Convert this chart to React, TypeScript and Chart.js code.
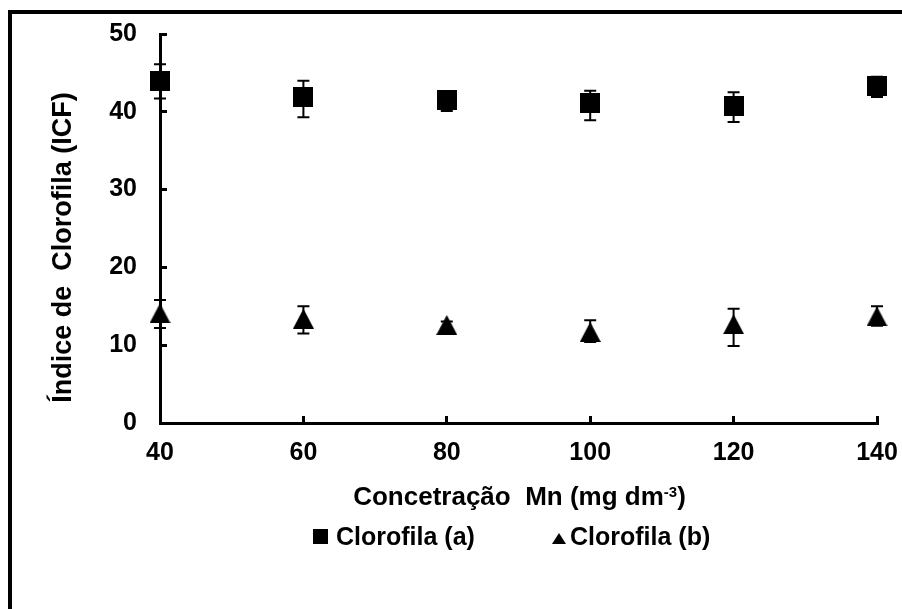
import React, { useEffect, useRef } from 'react';
import { Chart, registerables } from 'chart.js';

Chart.register(...registerables);

// ---- Data ----
const concentrations = [40, 60, 80, 100, 120, 140];
const clorofilaA = [43.9, 41.9, 41.5, 41.1, 40.8, 43.3];
const clorofilaAErrPlus = [2.2, 2.1, 1.0, 1.6, 1.7, 1.2];
const clorofilaAErrMinus = [2.2, 2.6, 1.4, 2.2, 2.1, 1.4];
const clorofilaB = [14.1, 13.4, 12.6, 11.7, 12.7, 13.7];
const clorofilaBErrPlus = [1.7, 1.6, 0.45, 1.5, 2.0, 1.3];
const clorofilaBErrMinus = [1.9, 1.9, 0.45, 1.3, 2.8, 1.2];
const xTicks = [40, 60, 80, 100, 120, 140];
const yTicks = [0, 10, 20, 30, 40, 50];
const seriesLabels = ['Clorofila (a)', 'Clorofila (b)'];
const yTitle = 'Índice de  Clorofila (ICF)';
const xTitleMain = 'Concetração  Mn (mg dm';
const xTitleSup = '-3';
const xTitleEnd = ')';

const errorBars = [
  { plus: clorofilaAErrPlus, minus: clorofilaAErrMinus },
  { plus: clorofilaBErrPlus, minus: clorofilaBErrMinus },
];

const FONT = '"Liberation Sans", Arial, Helvetica, sans-serif';

function makeSquare(size: number) {
  const c = document.createElement('canvas');
  c.width = size;
  c.height = size;
  const g = c.getContext('2d')!;
  g.fillStyle = '#000';
  g.fillRect(0, 0, size, size);
  return c;
}

function makeTriangle(w: number, h: number) {
  const c = document.createElement('canvas');
  c.width = w;
  c.height = h;
  const g = c.getContext('2d')!;
  g.fillStyle = '#000';
  g.beginPath();
  g.moveTo(w / 2, 0);
  g.lineTo(w, h);
  g.lineTo(0, h);
  g.closePath();
  g.fill();
  return c;
}

const errorBarPlugin = {
  id: 'errorBars',
  beforeDatasetsDraw(chart: any) {
    const ctx = chart.ctx;
    const ys = chart.scales.y;
    chart.data.datasets.forEach((ds: any, i: number) => {
      const meta = chart.getDatasetMeta(i);
      const eb = errorBars[i];
      meta.data.forEach((pt: any, j: number) => {
        const v = ds.data[j].y;
        const yt = ys.getPixelForValue(v + eb.plus[j]);
        const yb = ys.getPixelForValue(v - eb.minus[j]);
        ctx.save();
        ctx.strokeStyle = '#000';
        ctx.lineWidth = 2;
        ctx.beginPath();
        ctx.moveTo(pt.x, yt);
        ctx.lineTo(pt.x, yb);
        ctx.moveTo(pt.x - 6, yt);
        ctx.lineTo(pt.x + 6, yt);
        ctx.moveTo(pt.x - 6, yb);
        ctx.lineTo(pt.x + 6, yb);
        ctx.stroke();
        ctx.restore();
      });
    });
  },
};

const titlesAndLegendPlugin = {
  id: 'titlesAndLegend',
  afterDraw(chart: any) {
    const ctx = chart.ctx;
    const ca = chart.chartArea;
    ctx.save();
    ctx.fillStyle = '#000';

    // Y axis title
    ctx.save();
    ctx.translate(64, 247.5);
    ctx.rotate(-Math.PI / 2);
    ctx.font = `bold 27px ${FONT}`;
    ctx.textAlign = 'center';
    ctx.textBaseline = 'middle';
    ctx.fillText(yTitle, 0, 0);
    ctx.restore();

    // X axis title with superscript
    const mainFont = `bold 26px ${FONT}`;
    const supFont = `bold 15px ${FONT}`;
    ctx.font = mainFont;
    const w1 = ctx.measureText(xTitleMain).width;
    const w3 = ctx.measureText(xTitleEnd).width;
    ctx.font = supFont;
    const w2 = ctx.measureText(xTitleSup).width;
    const total = w1 + w2 + w3;
    const cx = (ca.left + ca.right) / 2 + 1;
    let x = cx - total / 2;
    const baseline = 505;
    ctx.textAlign = 'left';
    ctx.textBaseline = 'alphabetic';
    ctx.font = mainFont;
    ctx.fillText(xTitleMain, x, baseline);
    x += w1;
    ctx.font = supFont;
    ctx.fillText(xTitleSup, x, baseline - 8);
    x += w2;
    ctx.font = mainFont;
    ctx.fillText(xTitleEnd, x, baseline);

    // Legend
    ctx.font = `bold 25px ${FONT}`;
    ctx.textBaseline = 'middle';
    ctx.fillRect(313, 529, 15, 15);
    ctx.fillText(chart.data.datasets[0].label, 336, 538);
    ctx.beginPath();
    ctx.moveTo(559, 533);
    ctx.lineTo(566, 544);
    ctx.lineTo(552, 544);
    ctx.closePath();
    ctx.fill();
    ctx.fillText(chart.data.datasets[1].label, 570, 538);

    ctx.restore();
  },
};

function clearPadding(scale: any) {
  scale.paddingTop = 0;
  scale.paddingBottom = 0;
  scale.paddingLeft = 0;
  scale.paddingRight = 0;
}

export default function App() {
  const canvasRef = useRef<HTMLCanvasElement | null>(null);

  useEffect(() => {
    if (!canvasRef.current) return;
    const square = makeSquare(20);
    const triangle = makeTriangle(21, 20);
    const tickFont = { family: FONT, size: 25, weight: 'bold' as const };

    const chart = new Chart(canvasRef.current, {
      type: 'scatter',
      data: {
        datasets: [
          {
            label: seriesLabels[0],
            data: concentrations.map((c, i) => ({ x: c, y: clorofilaA[i] })),
            pointStyle: square as any,
            backgroundColor: '#000',
            borderColor: '#000',
            showLine: false,
            clip: false as any,
          },
          {
            label: seriesLabels[1],
            data: concentrations.map((c, i) => ({ x: c, y: clorofilaB[i] })),
            pointStyle: triangle as any,
            backgroundColor: '#000',
            borderColor: '#000',
            showLine: false,
            clip: false as any,
          },
        ],
      },
      options: {
        animation: false,
        responsive: false,
        devicePixelRatio: 1,
        layout: { padding: { left: 0, right: 25, top: 34, bottom: 0 } },
        plugins: {
          legend: { display: false },
          tooltip: { enabled: false },
          title: { display: false },
        },
        scales: {
          x: {
            type: 'linear',
            min: 40,
            max: 140,
            afterBuildTicks: (scale: any) => {
              scale.ticks = xTicks.map((v) => ({ value: v }));
            },
            afterFit: (scale: any) => {
              scale.height = 186;
              clearPadding(scale);
            },
            grid: {
              drawOnChartArea: false,
              drawTicks: true,
              tickLength: -7,
              tickWidth: 3,
              tickColor: '#000',
            },
            border: { display: true, color: '#000', width: 3 },
            ticks: { font: tickFont, color: '#000', padding: 22, maxRotation: 0 },
          },
          y: {
            type: 'linear',
            min: 0,
            max: 50,
            afterBuildTicks: (scale: any) => {
              scale.ticks = yTicks.map((v) => ({ value: v }));
            },
            afterFit: (scale: any) => {
              scale.width = 160;
              clearPadding(scale);
            },
            grid: {
              drawOnChartArea: false,
              drawTicks: true,
              tickLength: -7,
              tickWidth: 3,
              tickColor: '#000',
            },
            border: { display: true, color: '#000', width: 3 },
            ticks: { font: tickFont, color: '#000', padding: 30 },
          },
        },
      },
      plugins: [errorBarPlugin, titlesAndLegendPlugin],
    });

    return () => chart.destroy();
  }, []);

  return (
    <div
      style={{
        position: 'fixed',
        left: 0,
        top: 0,
        width: 902,
        height: 609,
        overflow: 'hidden',
        background: '#fff',
      }}
    >
      <div
        style={{
          position: 'absolute',
          left: 8,
          top: 10,
          width: 1000,
          height: 800,
          border: '4px solid #000',
        }}
      />
      <canvas
        ref={canvasRef}
        width={902}
        height={609}
        style={{ position: 'absolute', left: 0, top: 0, width: 902, height: 609 }}
      />
    </div>
  );
}
